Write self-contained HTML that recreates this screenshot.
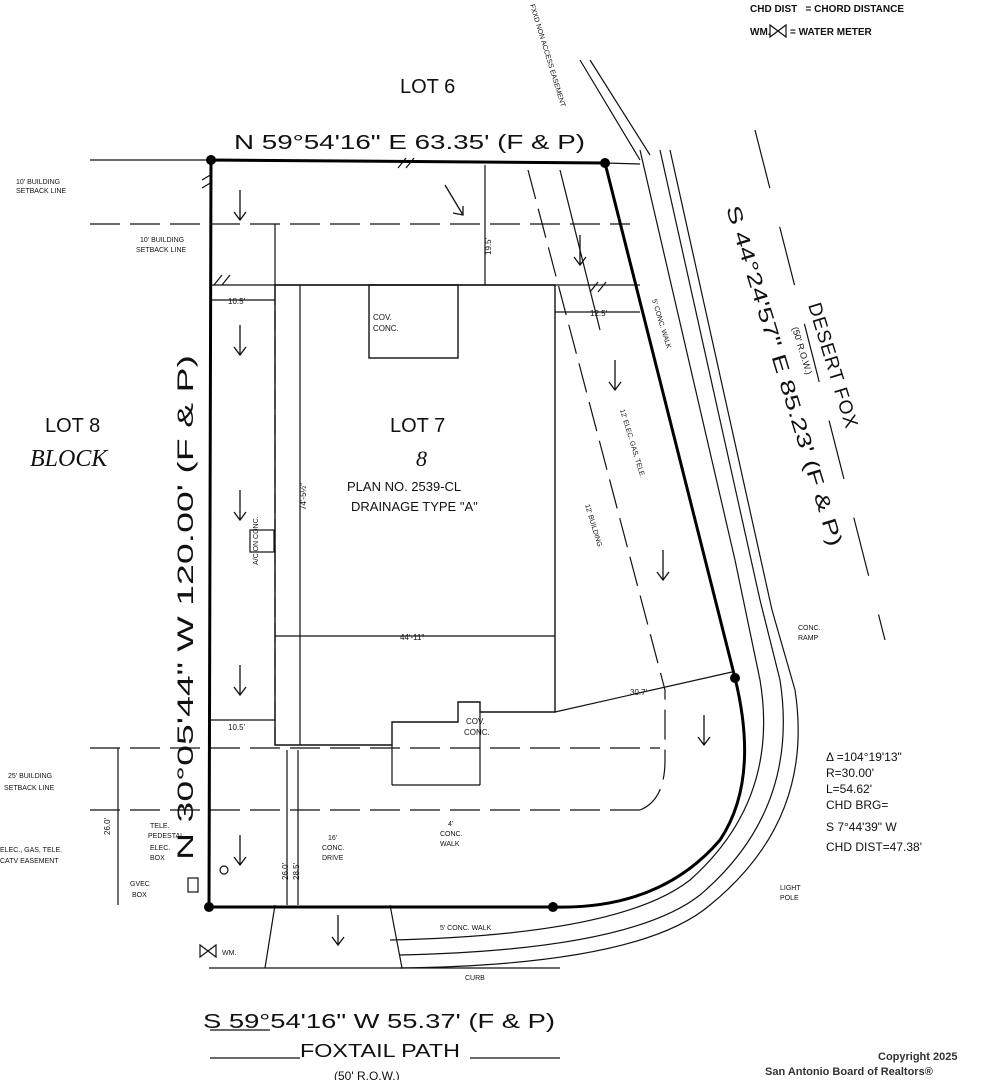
<!DOCTYPE html>
<html><head><meta charset="utf-8"><style>
html,body{margin:0;padding:0;background:#fff;}
svg{display:block;font-family:"Liberation Sans",sans-serif;}
.t{fill:#111;}
</style></head><body>
<svg width="982" height="1080" viewBox="0 0 982 1080" xmlns="http://www.w3.org/2000/svg">
<rect width="982" height="1080" fill="#fff"/>
<g stroke="#111" fill="none" stroke-width="1.2">
<path d="M770 25 l0 12 l16 -12 l0 12 z"/>
<line x1="90" y1="160" x2="211" y2="160"/>
<line x1="605" y1="163" x2="640" y2="164"/>
<line x1="90" y1="224" x2="630" y2="224" stroke-dasharray="30,10"/>
<line x1="211" y1="285" x2="640" y2="285"/>
<line x1="275" y1="224" x2="275" y2="285"/>
<line x1="485" y1="165" x2="485" y2="285"/>
<line x1="90" y1="748" x2="660" y2="748" stroke-dasharray="30,10"/>
<line x1="90" y1="810" x2="640" y2="810" stroke-dasharray="30,10"/>
<path d="M640 810 Q665 800 665 760 L665 690" stroke-dasharray="30,10"/>
<line x1="275" y1="285" x2="275" y2="745" stroke-dasharray="20,6"/>
<line x1="528" y1="170" x2="665" y2="690" stroke-dasharray="30,10"/>
<line x1="560" y1="170" x2="600" y2="330"/>
<path d="M300 285 L555 285 L555 712 L480 712 L480 702 L458 702 L458 722 L392 722 L392 745 L275 745 L275 285 Z" stroke-width="1.4"/>
<rect x="369" y="285" width="89" height="73" stroke-width="1.4"/>
<line x1="300" y1="285" x2="300" y2="745"/>
<line x1="275" y1="636" x2="555" y2="636"/>
<rect x="250" y="530" width="24" height="22"/>
<line x1="392" y1="745" x2="392" y2="785"/><line x1="480" y1="712" x2="480" y2="785"/>
<line x1="392" y1="785" x2="480" y2="785"/>
<line x1="287" y1="750" x2="287" y2="905"/><line x1="298" y1="750" x2="298" y2="905"/>
<line x1="275" y1="905" x2="265" y2="968"/><line x1="390" y1="905" x2="402" y2="968"/>
<line x1="118" y1="748" x2="118" y2="905"/>
<line x1="209" y1="968" x2="560" y2="968"/>
<line x1="640" y1="150" x2="735" y2="560"/>
<line x1="660" y1="150" x2="760" y2="600"/>
<line x1="670" y1="150" x2="772" y2="610"/>
<path d="M735 560 L760 680 Q780 800 690 880 Q620 935 390 940"/>
<path d="M760 600 L780 680 Q800 810 700 895 Q630 950 400 955"/>
<path d="M772 610 L795 690 Q815 820 710 905 Q640 965 400 968"/>
<line x1="755" y1="130" x2="885" y2="640" stroke-dasharray="60,40"/>
<line x1="580" y1="60" x2="640" y2="160"/>
<line x1="590" y1="60" x2="650" y2="155"/>
<line x1="555" y1="712" x2="732" y2="672"/>
<line x1="211" y1="720" x2="275" y2="720"/>
<line x1="211" y1="300" x2="275" y2="300"/>
<line x1="555" y1="312" x2="640" y2="312"/>
<path d="M210 1030 L270 1030 M470 1058 L560 1058 M210 1058 L300 1058"/>
<path d="M200 945 l0 12 l16 -12 l0 12 z"/>
<rect x="188" y="878" width="10" height="14"/>
<circle cx="224" cy="870" r="4"/>
<path d="M398 168 l8 -10 M406 168 l8 -10 M214 285 l8 -10 M222 285 l8 -10 M202 180 l10 -6 M202 188 l10 -6 M590 292 l8 -10 M598 292 l8 -10"/>
</g>
<g stroke="#000" fill="none" stroke-width="3">
<path d="M211 160 L605 163 L735 678 Q760 780 720 840 Q660 910 553 907 L209 907 Z"/>
</g>
<g fill="#000">
<circle cx="211" cy="160" r="5"/><circle cx="605" cy="163" r="5"/><circle cx="735" cy="678" r="5"/><circle cx="553" cy="907" r="5"/><circle cx="209" cy="907" r="5"/>
</g>
<g stroke="#111" fill="none" stroke-width="1.3">
<path d="M240 190 v30 m-6 -8 l6 8 l6 -8"/><path d="M240 325 v30 m-6 -8 l6 8 l6 -8"/>
<path d="M240 490 v30 m-6 -8 l6 8 l6 -8"/><path d="M240 665 v30 m-6 -8 l6 8 l6 -8"/>
<path d="M240 835 v30 m-6 -8 l6 8 l6 -8"/><path d="M338 915 v30 m-6 -8 l6 8 l6 -8"/>
<path d="M445 185 l18 30 m-10 -2 l10 2 l0 -9"/><path d="M580 235 v30 m-6 -8 l6 8 l6 -8"/>
<path d="M615 360 v30 m-6 -8 l6 8 l6 -8"/><path d="M663 550 v30 m-6 -8 l6 8 l6 -8"/>
<path d="M704 715 v30 m-6 -8 l6 8 l6 -8"/>
</g>
<g class="t">
<text x="750" y="12" font-size="10" font-weight="bold">CHD DIST&#160;&#160;&#160;= CHORD DISTANCE</text>
<text x="750" y="35" font-size="10" font-weight="bold">WM.&#160;&#160;&#160;&#160;&#160;&#160;&#160;= WATER METER</text>
<text x="400" y="93" font-size="20">LOT 6</text>
<text x="234" y="149" font-size="20" textLength="351" lengthAdjust="spacingAndGlyphs">N 59°54'16" E 63.35' (F &amp; P)</text>
<text x="45" y="432" font-size="20">LOT 8</text>
<text x="30" y="466" font-size="24" font-style="italic" font-family="Liberation Serif,serif">BLOCK</text>
<text x="390" y="432" font-size="20">LOT 7</text>
<text x="416" y="466" font-size="22" font-style="italic" font-family="Liberation Serif,serif">8</text>
<text x="347" y="491" font-size="13">PLAN NO. 2539-CL</text>
<text x="351" y="511" font-size="13">DRAINAGE TYPE "A"</text>
<text x="373" y="320" font-size="8">COV.</text><text x="373" y="331" font-size="8">CONC.</text>
<text x="466" y="724" font-size="8">COV.</text><text x="464" y="735" font-size="8">CONC.</text>
<text x="400" y="640" font-size="8">44'-11"</text>
<text x="228" y="304" font-size="8">10.5'</text><text x="228" y="730" font-size="8">10.5'</text>
<text x="590" y="316" font-size="8">12.5'</text>
<text x="630" y="695" font-size="8">30.7'</text>
<text x="0" y="0" font-size="22" transform="translate(193,860) rotate(-90)" textLength="505" lengthAdjust="spacingAndGlyphs">N 30°05'44" W 120.00' (F &amp; P)</text>
<text x="0" y="0" font-size="20" transform="translate(726,208) rotate(73)" textLength="355" lengthAdjust="spacingAndGlyphs">S 44°24'57" E 85.23' (F &amp; P)</text>
<text x="0" y="0" font-size="19" transform="translate(808,305) rotate(73)" letter-spacing="1">DESERT FOX</text>
<text x="0" y="0" font-size="9" transform="translate(792,328) rotate(73)">(50' R.O.W.)</text>
<text x="0" y="0" font-size="8" transform="translate(306,510) rotate(-90)">74'-5½"</text>
<text x="16" y="184" font-size="7">10' BUILDING</text><text x="16" y="193" font-size="7">SETBACK LINE</text>
<text x="140" y="242" font-size="7">10' BUILDING</text><text x="136" y="252" font-size="7">SETBACK LINE</text>
<text x="8" y="778" font-size="7">25' BUILDING</text><text x="4" y="790" font-size="7">SETBACK LINE</text>
<text x="0" y="852" font-size="7">ELEC., GAS, TELE.</text><text x="0" y="863" font-size="7">CATV EASEMENT</text>
<text x="150" y="828" font-size="7">TELE.</text><text x="148" y="838" font-size="7">PEDESTAL</text><text x="150" y="850" font-size="7">ELEC.</text><text x="150" y="860" font-size="7">BOX</text>
<text x="130" y="886" font-size="7">GVEC</text><text x="132" y="897" font-size="7">BOX</text>
<text x="222" y="955" font-size="7">WM.</text>
<text x="328" y="840" font-size="7">16'</text><text x="322" y="850" font-size="7">CONC.</text><text x="322" y="860" font-size="7">DRIVE</text>
<text x="448" y="826" font-size="7">4'</text><text x="440" y="836" font-size="7">CONC.</text><text x="440" y="846" font-size="7">WALK</text>
<text x="440" y="930" font-size="7">5' CONC. WALK</text>
<text x="465" y="980" font-size="7">CURB</text>
<text x="798" y="630" font-size="7">CONC.</text><text x="798" y="640" font-size="7">RAMP</text>
<text x="780" y="890" font-size="7">LIGHT</text><text x="780" y="900" font-size="7">POLE</text>
<text x="826" y="761" font-size="12">Δ =104°19'13"</text>
<text x="826" y="777" font-size="12">R=30.00'</text>
<text x="826" y="793" font-size="12">L=54.62'</text>
<text x="826" y="809" font-size="12">CHD BRG=</text>
<text x="826" y="831" font-size="12">S 7°44'39" W</text>
<text x="826" y="851" font-size="12">CHD DIST=47.38'</text>
<text x="0" y="0" font-size="8" transform="translate(110,835) rotate(-90)">26.0'</text>
<text x="0" y="0" font-size="8" transform="translate(288,880) rotate(-90)">26.0'</text>
<text x="0" y="0" font-size="8" transform="translate(299,880) rotate(-90)">28.5'</text>
<text x="0" y="0" font-size="8" transform="translate(491,255) rotate(-90)">19.5'</text>
<text x="0" y="0" font-size="7" transform="translate(620,410) rotate(73)">12' ELEC. GAS, TELE.</text>
<text x="0" y="0" font-size="7" transform="translate(585,505) rotate(73)">12' BUILDING</text>
<text x="0" y="0" font-size="7" transform="translate(652,300) rotate(73)">5' CONC. WALK</text>
<text x="0" y="0" font-size="7" transform="translate(530,5) rotate(73)">FXXD NON ACCESS EASEMENT</text>
<text x="0" y="0" font-size="7" transform="translate(258,565) rotate(-90)">A/C ON CONC.</text>
<text x="203" y="1028" font-size="20" textLength="352" lengthAdjust="spacingAndGlyphs">S 59°54'16" W 55.37' (F &amp; P)</text>
<text x="300" y="1057" font-size="18" textLength="160" lengthAdjust="spacingAndGlyphs">FOXTAIL PATH</text>
<text x="334" y="1080" font-size="12">(50' R.O.W.)</text>
<text x="878" y="1060" font-size="11" font-weight="bold" fill="#333">Copyright 2025</text>
<text x="765" y="1075" font-size="11" font-weight="bold" fill="#333">San Antonio Board of Realtors®</text>
</g>
</svg>
</body></html>
